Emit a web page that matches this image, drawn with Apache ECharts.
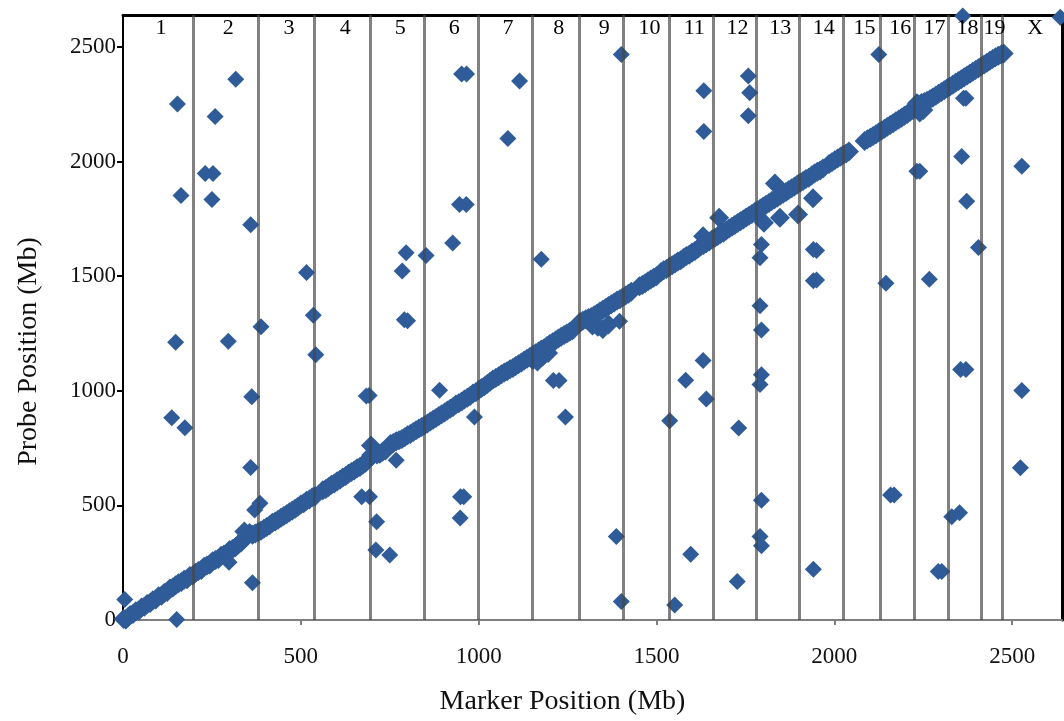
<!DOCTYPE html>
<html>
<head>
<meta charset="utf-8">
<script src="https://cdn.jsdelivr.net/npm/echarts@6/dist/echarts.min.js"></script>
<style>
  html, body { margin: 0; padding: 0; background: #ffffff; }
  #chart { width: 1064px; height: 721px; }
</style>
</head>
<body>
<div id="chart"></div>
<script>
// ---------------- DATA ----------------
const chromNames = ['1','2','3','4','5','6','7','8','9','10','11','12','13','14','15','16','17','18','19','X'];
// cumulative end position (Mb) of each chromosome along the genome
const chromEnds = [197,379,539,695,848,998,1151,1283,1407,1537,1659,1780,1900,2025,2128,2226,2321,2412,2473,2640];

const xTitle = 'Marker Position (Mb)';
const yTitle = 'Probe Position (Mb)';

// cis associations (marker and probe on same locus) [marker Mb, probe Mb]
const cisPoints = [
  [2,4],[8,2],[14,12],[20,22],[28,26],[36,38],[44,40],[52,55],[60,58],[68,70],[76,74],[84,86],[92,90],
  [100,104],[108,106],[116,118],[124,122],[132,138],[140,142],[148,152],[156,160],[164,166],[172,176],
  [180,178],[188,192],[196,194],[204,206],[212,214],[220,218],[228,232],[236,238],[244,242],[252,256],
  [260,262],[268,266],[276,280],[284,286],[292,290],[300,306],[308,310],[316,318],[324,330],[332,338],
  [340,352],[348,366],[356,380],[341,386],[364,372],[372,378],[380,384],[388,390],[396,398],[404,406],
  [412,414],[420,424],[428,430],[436,438],[444,446],[452,454],[460,462],[468,470],[476,478],[484,486],
  [492,494],[500,504],[508,510],[516,520],[524,526],[532,536],[540,540],
  [562,566],[570,572],[578,580],[586,590],[594,596],[602,606],[610,612],[618,622],[626,628],[634,638],
  [642,646],[650,652],[658,662],[666,668],[674,678],[682,686],[690,700],[697,762],[698,720],[711,733],
  [706,728],[714,722],[722,726],[730,734],[738,740],
  [752,768],[760,772],[768,780],[776,784],[784,790],[792,798],[800,806],[808,812],[816,820],[824,828],
  [832,836],[840,842],[848,850],[856,858],[864,866],[872,874],[880,882],[888,890],[896,898],[904,906],
  [912,914],[920,922],[928,930],[936,940],[944,946],[952,954],[960,962],[968,970],[976,978],[984,988],
  [992,994],[1000,1004],[1008,1012],[1016,1020],[1024,1030],[1032,1040],[1040,1050],[1048,1056],
  [1056,1064],[1064,1072],[1072,1080],[1080,1086],[1088,1094],[1096,1100],[1104,1108],[1112,1116],
  [1120,1124],[1128,1132],[1136,1140],[1144,1148],[1152,1156],[1160,1164],[1168,1172],[1176,1180],
  [1184,1186],[1192,1196],[1200,1204],[1208,1212],[1216,1220],[1224,1228],[1232,1236],[1240,1244],
  [1248,1250],[1256,1258],[1264,1264],[1152,1135],[1165,1128],[1180,1150],[1195,1165],
  [1285,1300],[1293,1306],[1301,1312],[1309,1318],[1317,1322],[1325,1330],[1333,1338],[1341,1346],
  [1349,1354],[1357,1362],[1365,1370],[1373,1378],[1381,1386],[1389,1394],[1397,1400],[1405,1408],
  [1413,1416],[1421,1424],[1429,1432],[1320,1285],[1335,1280],[1349,1270],[1365,1290],
  [1452,1456],[1460,1462],[1468,1470],[1476,1478],[1484,1486],[1492,1494],[1500,1500],
  [1512,1518],[1520,1526],[1528,1532],[1536,1540],[1544,1548],[1552,1556],[1560,1564],[1568,1570],
  [1576,1580],[1584,1588],[1592,1594],[1600,1604],[1608,1610],[1616,1620],[1624,1630],[1632,1636],
  [1640,1644],[1648,1652],[1656,1660],[1664,1668],[1672,1676],[1680,1684],[1688,1690],[1696,1700],
  [1704,1708],[1712,1716],[1720,1724],[1728,1732],[1736,1740],[1744,1748],[1752,1756],[1760,1764],
  [1768,1772],[1776,1780],[1784,1788],[1792,1796],[1800,1804],[1808,1812],[1816,1820],[1824,1828],
  [1832,1836],[1840,1844],[1848,1852],[1856,1860],[1864,1868],[1872,1876],[1880,1884],[1888,1892],
  [1896,1900],[1904,1908],[1912,1916],[1920,1924],[1928,1930],[1936,1940],[1944,1948],[1952,1956],
  [1960,1962],[1968,1970],[1631,1675],[1676,1755],[1833,1905],[1802,1733],[1847,1755],[1898,1770],
  [1940,1840],
  [1985,1990],[1993,1998],[2001,2006],[2009,2014],[2017,2022],[2025,2030],[2033,2036],[2041,2044],
  [2085,2090],[2093,2098],[2101,2104],[2109,2112],[2117,2120],[2125,2128],[2133,2136],[2141,2144],
  [2149,2152],[2157,2160],[2165,2168],[2173,2176],[2181,2184],[2189,2192],[2197,2200],[2205,2208],
  [2213,2218],[2221,2226],[2229,2236],[2237,2250],[2245,2256],[2253,2260],[2261,2266],[2269,2272],
  [2277,2280],[2285,2288],[2293,2296],[2301,2304],[2309,2312],[2317,2320],[2325,2328],[2333,2336],
  [2341,2344],[2349,2352],[2357,2360],[2365,2368],[2373,2376],[2381,2384],[2389,2392],[2397,2400],
  [2405,2408],[2413,2416],[2421,2424],[2429,2432],[2437,2440],[2445,2448],[2453,2456],[2461,2462],
  [2469,2468],[2476,2472],[2240,2215],[2250,2225],[2232,2255]
];

// trans associations [marker Mb, probe Mb]
const transPoints = [
  [5,90],[151,2],[153,2252],[163,1852],[148,1212],[137,883],[174,839],
  [317,2360],[259,2197],[231,1948],[253,1948],[250,1835],[359,1725],[296,1216],[298,252],[362,974],
  [359,665],[364,163],[370,480],[385,509],
  [388,1280],[516,1516],[535,1330],[542,1157],
  [671,538],[693,538],[684,978],[692,980],[713,429],[711,306],
  [796,1603],[785,1523],[791,1310],[800,1306],[768,697],[750,284],
  [852,1591],[927,1645],[946,1813],[965,1813],[952,2383],[966,2383],[890,1003],[988,886],
  [949,538],[958,538],[948,445],
  [1082,2101],[1115,2352],
  [1176,1574],[1210,1045],[1226,1045],[1244,886],
  [1401,2468],[1387,364],[1401,81],[1396,1304],
  [1551,66],[1537,869],
  [1633,2310],[1633,2132],[1582,1046],[1631,1132],[1640,964],[1596,287],
  [1758,2374],[1762,2301],[1758,2200],[1731,838],[1727,168],
  [1795,1639],[1791,1581],[1791,1371],[1795,1265],[1795,1070],[1791,1028],[1795,523],[1791,364],[1795,324],
  [1941,1617],[1950,1612],[1941,1480],[1950,1484],[1941,221],
  [2125,2468],[2145,1470],
  [2158,545],[2168,545],[2232,1958],[2240,1958],
  [2267,1487],[2292,212],[2302,212],
  [2361,2636],[2358,2023],[2363,2277],[2370,2277],[2372,1827],[2355,1093],[2370,1093],[2330,451],[2352,468],
  [2405,1625],
  [2527,1980],[2527,1001],[2523,664],[2635,2630]
];

// ---------------- BUILD ----------------
const genomeMax = chromEnds[chromEnds.length - 1];
const boundaries = chromEnds.slice(0, -1);
const labelY = 2582;
const labelShift = 8;
const chromLabelData = chromNames.map((name, i) => {
  const start = i === 0 ? 0 : chromEnds[i - 1];
  return { value: [(start + chromEnds[i]) / 2 + labelShift, labelY], name: name };
});

const serif = "'Liberation Serif', 'Times New Roman', serif";
const markerColor = '#2F5C98';
const plainNumber = v => String(v);

const chart = echarts.init(document.getElementById('chart'), null, { renderer: 'canvas' });
chart.setOption({
  animation: false,
  backgroundColor: '#ffffff',
  grid: { left: 123, right: 2, top: 15, bottom: 99, containLabel: false },
  xAxis: [{
    type: 'value', min: 0, max: genomeMax, interval: 500,
    name: xTitle, nameLocation: 'middle', nameGap: 68,
    nameTextStyle: { fontFamily: serif, fontSize: 28, color: '#111', padding: [0, 60, 0, 0] },
    axisLine: { show: true, onZero: false, lineStyle: { color: '#7f7f7f', width: 2 } },
    axisTick: { show: true, inside: false, length: 5, lineStyle: { color: '#7f7f7f', width: 2 } },
    axisLabel: { fontFamily: serif, fontSize: 23, color: '#111', margin: 25, showMaxLabel: false, formatter: plainNumber },
    splitLine: { show: false }
  }, {
    type: 'value', min: 0, max: genomeMax, position: 'top',
    axisLine: { show: true, onZero: false, lineStyle: { color: '#000', width: 3 } },
    axisTick: { show: false }, axisLabel: { show: false }, splitLine: { show: false }
  }],
  yAxis: [{
    type: 'value', min: 0, max: genomeMax, interval: 500,
    name: yTitle, nameLocation: 'middle', nameGap: 80,
    nameTextStyle: { fontFamily: serif, fontSize: 28, color: '#111', padding: [0, 68, 0, 0] },
    axisLine: { show: true, onZero: false, lineStyle: { color: '#000', width: 2 } },
    axisTick: { show: true, inside: false, length: 6, lineStyle: { color: '#000', width: 2 } },
    axisLabel: { fontFamily: serif, fontSize: 23, color: '#111', margin: 7, showMaxLabel: false, formatter: plainNumber },
    splitLine: { show: false }
  }, {
    type: 'value', min: 0, max: genomeMax, position: 'right',
    axisLine: { show: true, onZero: false, lineStyle: { color: '#000', width: 3 } },
    axisTick: { show: false }, axisLabel: { show: false }, splitLine: { show: false }
  }],
  series: [
    {
      name: 'cis', type: 'scatter', symbol: 'diamond', symbolSize: 20, clip: false, z: 2,
      itemStyle: { color: markerColor, opacity: 1 },
      data: cisPoints
    },
    {
      name: 'trans', type: 'scatter', symbol: 'diamond', symbolSize: 17, clip: false, z: 2,
      itemStyle: { color: markerColor, opacity: 1 },
      data: transPoints
    },
    {
      name: 'boundaries', type: 'scatter', data: [], z: 4, silent: true,
      markLine: {
        silent: true, symbol: ['none', 'none'], animation: false,
        label: { show: false },
        lineStyle: { color: 'rgba(70,70,70,0.68)', width: 3, type: 'solid' },
        data: boundaries.map(b => ({ xAxis: b }))
      }
    },
    {
      name: 'chromosomes', type: 'scatter', symbol: 'circle', symbolSize: 1, z: 6, silent: true,
      itemStyle: { color: 'rgba(0,0,0,0)' },
      label: {
        show: true, position: 'inside', formatter: p => p.name,
        fontFamily: serif, fontSize: 22, color: '#000', opacity: 1,
        textBorderWidth: 0, textShadowBlur: 0
      },
      emphasis: { disabled: true },
      data: chromLabelData
    }
  ]
});
</script>
</body>
</html>
